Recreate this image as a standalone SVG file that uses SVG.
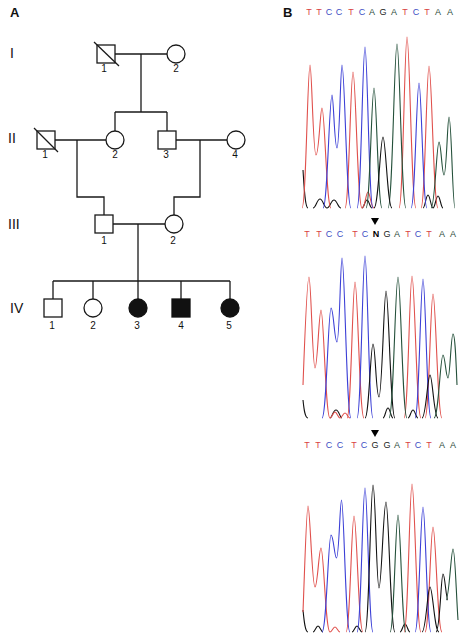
<svg xmlns="http://www.w3.org/2000/svg" width="464" height="638" viewBox="0 0 464 638">
<style>
.ln{fill:none;stroke:#1a1a1a;stroke-width:1.3}
.op{fill:#fff;stroke:#1a1a1a;stroke-width:1.3}
.fl{fill:#111;stroke:#111;stroke-width:1.3}
.gen{font-family:"Liberation Sans",Arial,sans-serif;font-size:14px;fill:#111}
.num{font-family:"Liberation Sans",Arial,sans-serif;font-size:10px;fill:#111;text-anchor:middle}
.pl{font-family:"Liberation Sans",Arial,sans-serif;font-size:13px;font-weight:bold;fill:#111}
.sq{font-family:"Liberation Sans",Arial,sans-serif;font-size:9px;text-anchor:middle}
.T{fill:#d9453f}.C{fill:#3d4fc4}.A{fill:#2e4d3a}.G{fill:#222}.N{fill:#000;font-weight:bold}
.tr{fill:none;stroke-width:1.1;stroke-linejoin:round}
.r{stroke:#e0504c}.b{stroke:#3b3fd6}.g{stroke:#24503a}.k{stroke:#111}
</style>
<rect width="464" height="638" fill="#fff"/>
<text class="pl" x="10" y="17">A</text>
<text class="pl" x="283" y="17">B</text>
<g id="generation-labels">
<text class="gen" x="10" y="58">I</text>
<text class="gen" x="8" y="143">II</text>
<text class="gen" x="8" y="229">III</text>
<text class="gen" x="10" y="313">IV</text>
</g>
<g id="connectors">
<path class="ln" d="M115,54H167M141,54V112M115,112H167M115,112V131M167,112V131"/>
<path class="ln" d="M55,140H106M176,140H227"/>
<path class="ln" d="M77,140V197H104V215M200,140V197H174V215"/>
<path class="ln" d="M113,224H165M138,224V281M53,281H230M53,281V299M93,281V299M138,281V299M181,281V299M230,281V299"/>
</g>
<g id="I-1"><rect class="op" x="97" y="45" width="18" height="18"/><line class="ln" x1="94" y1="42" x2="119" y2="66"/><text class="num" x="104" y="72">1</text></g>
<g id="I-2"><circle class="op" cx="176" cy="54" r="9"/><text class="num" x="176" y="72">2</text></g>
<g id="II-1"><rect class="op" x="37" y="131" width="18" height="18"/><line class="ln" x1="34" y1="128" x2="58" y2="152"/><text class="num" x="45" y="158">1</text></g>
<g id="II-2"><circle class="op" cx="115" cy="140" r="9"/><text class="num" x="115" y="158">2</text></g>
<g id="II-3"><rect class="op" x="158" y="131" width="18" height="18"/><text class="num" x="166" y="158">3</text></g>
<g id="II-4"><circle class="op" cx="236" cy="140" r="9"/><text class="num" x="235" y="158">4</text></g>
<g id="III-1"><rect class="op" x="95" y="215" width="18" height="18"/><text class="num" x="104" y="244">1</text></g>
<g id="III-2"><circle class="op" cx="174" cy="224" r="9"/><text class="num" x="173" y="244">2</text></g>
<g id="IV-1"><rect class="op" x="44" y="299" width="18" height="18"/><text class="num" x="52" y="329">1</text></g>
<g id="IV-2"><circle class="op" cx="93" cy="308" r="9"/><text class="num" x="93" y="329">2</text></g>
<g id="IV-3"><circle class="fl" cx="138" cy="308" r="9"/><text class="num" x="137" y="329">3</text></g>
<g id="IV-4"><rect class="fl" x="172" y="299" width="18" height="18"/><text class="num" x="181" y="329">4</text></g>
<g id="IV-5"><circle class="fl" cx="230" cy="308" r="9"/><text class="num" x="229" y="329">5</text></g>

<g id="seq1" class="sq">
<text class="T" x="309" y="15">T</text><text class="T" x="319" y="15">T</text><text class="C" x="329" y="15">C</text><text class="C" x="339" y="15">C</text><text class="T" x="351" y="15">T</text><text class="C" x="362" y="15">C</text><text class="A" x="372" y="15">A</text><text class="G" x="383" y="15">G</text><text class="A" x="394" y="15">A</text><text class="T" x="405" y="15">T</text><text class="C" x="416" y="15">C</text><text class="T" x="427" y="15">T</text><text class="A" x="438" y="15">A</text><text class="A" x="450" y="15">A</text>
</g>
<g id="seq2" class="sq">
<polygon points="371,218 379,218 375,225" fill="#000"/>
<text class="T" x="307" y="237">T</text><text class="T" x="319" y="237">T</text><text class="C" x="329" y="237">C</text><text class="C" x="340" y="237">C</text><text class="T" x="355" y="237">T</text><text class="C" x="365" y="237">C</text><text class="N" x="376" y="237">N</text><text class="G" x="387" y="237">G</text><text class="A" x="397" y="237">A</text><text class="T" x="408" y="237">T</text><text class="C" x="418" y="237">C</text><text class="T" x="429" y="237">T</text><text class="A" x="442" y="237">A</text><text class="A" x="453" y="237">A</text>
</g>
<g id="seq3" class="sq">
<polygon points="371,430 379,430 375,437" fill="#000"/>
<text class="T" x="307" y="448">T</text><text class="T" x="318" y="448">T</text><text class="C" x="329" y="448">C</text><text class="C" x="340" y="448">C</text><text class="T" x="354" y="448">T</text><text class="C" x="364" y="448">C</text><text class="G" x="375" y="448">G</text><text class="G" x="387" y="448">G</text><text class="A" x="397" y="448">A</text><text class="T" x="408" y="448">T</text><text class="C" x="418" y="448">C</text><text class="T" x="429" y="448">T</text><text class="A" x="442" y="448">A</text><text class="A" x="453" y="448">A</text>
</g>

<g id="chromatogram1">
<path class="tr k" d="M303,170C304,185 305,208 308,208M313,208C316,208 317,199 320,199C323,199 324,208 327,208C330,208 331,200 334,200C337,200 338,208 341,208M362,208C364,208 365,200 367,200C369,200 370,208 372,208M423,208C425,208 426,195 428,195C430,195 431,208 433,208C435,208 436,196 438,196C440,196 441,208 443,208"/>
<path class="tr r" d="M302,208C306,208 307.6,65 310,65C311.8,65 313,155 316,155C319,155 320.2,108 322,108C324.7,108 326.5,208 331,208M345,208C349,208 350.6,72 353,72C355.7,72 357.5,208 362,208M362,208C365,208 366,192 368,192C370,192 371,208 374,208M399,208C403,208 404.6,37 407,37C409.7,37 411.5,208 416,208M421,208C425,208 426.6,66 429,66C431.7,66 433.5,208 438,208"/>
<path class="tr b" d="M323,208C327.5,208 329.3,95 332,95C333.5,95 334.5,148 337,148C339.5,148 340.5,65 342,65C344.7,65 346.5,208 351,208M357,208C361,208 362.6,47 365,47C367.4,47 369,208 373,208M411,208C415,208 416.6,83 419,83C421.4,83 423,208 427,208"/>
<path class="tr g" d="M366,208C370,208 371.6,88 374,88C376.4,88 378,208 382,208M388,208C392.5,208 394.3,44 397,44C399.7,44 401.5,208 406,208M431,208C435,208 436.6,142 439,142C441,142 442,175 444,175C446.5,175 447.5,117 449,117C451.5,117 452.5,208 455,208"/>
<path class="tr k" d="M374,208C378.5,208 380.3,137 383,137C385.7,137 387.5,208 392,208"/>
</g>

<g id="chromatogram2">
<path class="tr k" d="M303,400C304,410 305,418 308,418M330,418C332,418 333,410 336,410C339,410 340,418 342,418M383,418C385,418 386,408 388,408C390,408 391,418 393,418M408,418C410,418 411,410 413,410C415,410 416,418 418,418"/>
<path class="tr r" d="M303,385C305,330 307.2,277 309,277C311,277 312.5,368 315,368C317.5,368 319,310 321,310C323.7,310 325.5,418 330,418C332,418 333,412 335,412C337,412 338,418 340,418C342,418 343,413 345,413C347,413 348,418 350,418M347,418C351,418 352.6,282 355,282C357.7,282 359.5,418 364,418M404,418C408,418 409.6,276 412,276C414.7,276 416.5,418 421,418M425,418C429,418 430.6,294 433,294C435.7,294 437.5,418 442,418"/>
<path class="tr b" d="M322,418C326.5,418 328.3,308 331,308C333.5,308 334.5,342 337,342C339.5,342 340.5,258 342,258C344.7,258 346.5,418 351,418M357,418C361,418 362.6,256 365,256C367.4,256 369,418 373,418M415,418C419,418 420.6,279 423,279C425.4,279 427,418 431,418"/>
<path class="tr k" d="M365,418C369,418 370.6,344 373,344C375.4,344 376,397 379,397C382,397 384,291 386,291C388.7,291 390.5,418 395,418M422,418C426,418 427.6,375 430,375C432.4,375 434,418 438,418"/>
<path class="tr g" d="M389,418C393.5,418 395.3,277 398,277C400.7,277 402.5,418 407,418M434,418C438.5,418 440.3,355 443,355C445,355 446,378 448,378C450,378 451,334 453,334C455,334 456,360 457,385"/>
</g>

<g id="chromatogram3">
<path class="tr k" d="M303,610C304,620 305,632 308,632M313,632C315,632 316,626 318,626C320,626 321,632 323,632M352,632C354,632 355,626 357,626C359,626 360,632 362,632M400,632C402,632 403,624 405,624C407,624 408,632 410,632"/>
<path class="tr r" d="M303,612C305,560 306.5,506 308,506C310,506 312,587 315,587C317.5,587 319,548 321,548C323.7,548 325.5,632 330,632C332,632 333,627 335,627C337,627 338,632 340,632M346,632C350,632 351.6,516 354,516C356.7,516 358.5,632 363,632M404,632C408,632 409.6,484 412,484C414.7,484 416.5,632 421,632M425,632C429,632 430.6,527 433,527C435.7,527 437.5,632 442,632"/>
<path class="tr b" d="M322,632C326.5,632 328.3,535 331,535C333.5,535 334.5,558 336.5,558C339,558 340,500 341.5,500C344,500 345.5,632 350,632M357,632C361,632 362.6,488 365,488C367.4,488 369,632 373,632M415,632C419,632 420.6,507 423,507C425.4,507 427,632 431,632"/>
<path class="tr k" d="M365,632C369,632 370.6,485 373,485C375.4,485 376.5,588 379,588C381.5,588 383.5,502 386,502C388.7,502 390.5,632 395,632M422,632C426,632 427.6,587 430,587C432.7,587 434.5,632 439,632M436,632C440,632 441,574 443,574C445,574 446,600 448,600"/>
<path class="tr g" d="M390,632C394,632 395.6,515 398,515C400.4,515 402,632 406,632M446,600C449,600 451.2,549 453,549C455,549 456,590 458,620"/>
</g>
</svg>
